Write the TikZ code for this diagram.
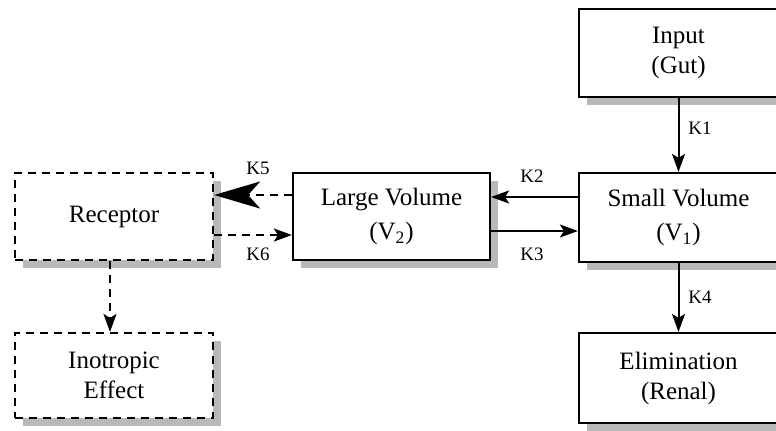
\documentclass[tikz,border=0pt]{standalone}
\usepackage{fontspec}
\setmainfont{Liberation Serif}
\usetikzlibrary{arrows.meta,shadows}
\begin{document}
\begin{tikzpicture}[x=0.5pt,y=-0.5pt,
  box/.style={draw, line width=1.1pt, fill=white, align=center,
    font=\fontsize{12.5}{15}\selectfont,
    general shadow={fill=gray!55, shadow xshift=4pt, shadow yshift=-4pt}},
  vbox/.style={box, font=\fontsize{12.5}{17}\selectfont},
  dbox/.style={box, dash pattern=on 4pt off 3pt},
  lbl/.style={font=\fontsize{9.5}{11}\selectfont, inner sep=0pt},
  arr/.style={line width=1pt, -{Stealth[length=9pt,width=6.5pt,inset=2pt]}},
  darr/.style={arr, dash pattern=on 4pt off 3pt},
  bigarr/.style={line width=1pt, dash pattern=on 4pt off 3pt,
    -{Stealth[length=23pt,width=13.5pt,inset=6pt]}}]
\useasboundingbox (0,0) rectangle (776,430);

\node[box, minimum width=99.5pt, minimum height=44pt] (input) at (678.5,53) {Input\\(Gut)};
\node[vbox, minimum width=99.5pt, minimum height=44.5pt] (small) at (678.5,217.5) {Small Volume\\(V\textsubscript{1})};
\node[box, minimum width=99.5pt, minimum height=45pt] (elim) at (678.5,378) {Elimination\\(Renal)};
\node[vbox, minimum width=98.5pt, minimum height=43.5pt] (large) at (391.5,216.5) {Large Volume\\(V\textsubscript{2})};
\node[dbox, minimum width=99pt, minimum height=43.5pt] (rec) at (114,216.5) {Receptor};
\node[dbox, minimum width=99pt, minimum height=42.5pt] (ino) at (114,375.5) {Inotropic\\Effect};

\coordinate (yk2) at (0,197);
\coordinate (yk3) at (0,231);
\coordinate (yk5) at (0,195);
\coordinate (yk6) at (0,235);
\coordinate (xri) at (110,0);

\draw[arr] (input.south) -- (small.north);
\draw[arr] (small.south) -- (elim.north);
\draw[arr] (small.west |- yk2) -- (large.east |- yk2);
\draw[arr] (large.east |- yk3) -- (small.west |- yk3);
\draw[bigarr] (large.west |- yk5) -- (rec.east |- yk5);
\draw[darr] (rec.east |- yk6) -- (large.west |- yk6);
\draw[darr] (rec.south -| xri) -- (ino.north -| xri);

\node[lbl] (k1) at (700,128) {K1};
\node[lbl] (k4) at (700,297) {K4};
\node[lbl] (k2) at (532,176) {K2};
\node[lbl] (k3) at (532,254) {K3};
\node[lbl] (k5) at (258,168) {K5};
\node[lbl] (k6) at (258,254) {K6};
\end{tikzpicture}
\end{document}
